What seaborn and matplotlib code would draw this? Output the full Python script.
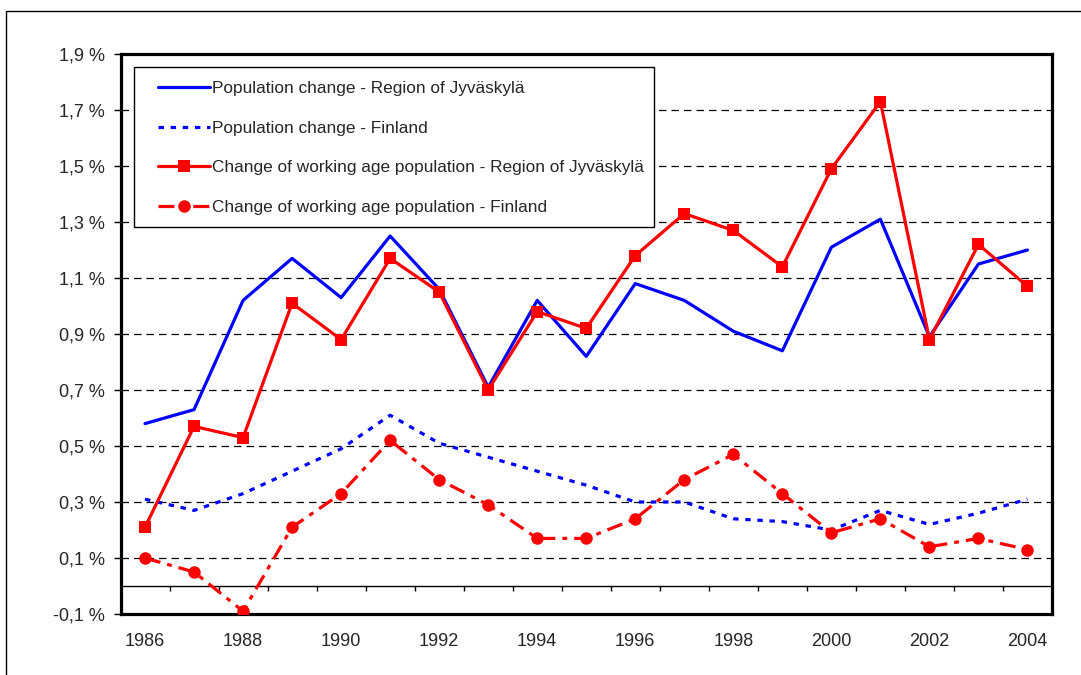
import matplotlib
matplotlib.use("Agg")
import matplotlib.pyplot as plt
from matplotlib.patches import Rectangle
from matplotlib.ticker import FuncFormatter
import seaborn as sns
import pandas as pd

# values (percent change per year)
years = list(range(1986, 2005))
region_pop = [0.58, 0.63, 1.02, 1.17, 1.03, 1.25, 1.06, 0.71, 1.02, 0.82,
              1.08, 1.02, 0.91, 0.84, 1.21, 1.31, 0.89, 1.15, 1.20]
finland_pop = [0.31, 0.27, 0.33, 0.41, 0.49, 0.61, 0.51, 0.46, 0.41, 0.36,
               0.30, 0.30, 0.24, 0.23, 0.20, 0.27, 0.22, 0.26, 0.31]
region_work = [0.21, 0.57, 0.53, 1.01, 0.88, 1.17, 1.05, 0.70, 0.98, 0.92,
               1.18, 1.33, 1.27, 1.14, 1.49, 1.73, 0.88, 1.22, 1.07]
finland_work = [0.10, 0.05, -0.09, 0.21, 0.33, 0.52, 0.38, 0.29, 0.17, 0.17,
                0.24, 0.38, 0.47, 0.33, 0.19, 0.24, 0.14, 0.17, 0.13]
series_names = ["Population change - Region of Jyväskylä",
                "Population change - Finland",
                "Change of working age population - Region of Jyväskylä",
                "Change of working age population - Finland"]
y_ticks = [-0.1, 0.1, 0.3, 0.5, 0.7, 0.9, 1.1, 1.3, 1.5, 1.7, 1.9]
x_ticks = list(range(1986, 2005, 2))

df = pd.DataFrame({
    "year": years * 4,
    "value": region_pop + finland_pop + region_work + finland_work,
    "series": sum([[s] * len(years) for s in series_names], []),
})

sns.set_theme(style="white")
plt.rcParams["font.family"] = ["Liberation Sans", "DejaVu Sans"]

fig = plt.figure(figsize=(10.81, 6.75), dpi=100)
ax = fig.add_axes([120.5 / 1081, 1 - 614 / 675, (1052 - 120.5) / 1081, (614 - 54) / 675])

# line styles per series
styles = {
    series_names[0]: dict(color="#0000ff", linestyle="-", marker=None),
    series_names[1]: dict(color="#0000ff", linestyle=(0, (1.7, 2.1)), marker=None,
                          dash_capstyle="butt"),
    series_names[2]: dict(color="#ff0000", linestyle="-", marker="s", markersize=8),
    series_names[3]: dict(color="#ff0000", linestyle=(0, (5, 2.2, 1.5, 2.2)), marker="o",
                          markersize=9, dash_capstyle="butt"),
}
for name in series_names:
    st = styles[name]
    sns.lineplot(data=df[df["series"] == name], x="year", y="value", ax=ax,
                 label=name, linewidth=2.3, markeredgecolor=st["color"],
                 markeredgewidth=0, zorder=3, **st)

ax.set_xlim(1985.5, 2004.5)
ax.set_ylim(-0.1, 1.9)
ax.set_yticks(y_ticks)
ax.yaxis.set_major_formatter(FuncFormatter(lambda v, p: f"{v:.1f}".replace(".", ",") + " %"))
ax.set_xticks(x_ticks)
ax.set_xticklabels([str(y) for y in x_ticks])
ax.tick_params(axis="y", direction="out", length=5, width=1, color="black",
               pad=6, labelsize=13, left=True)
ax.tick_params(axis="x", length=0, pad=14, labelsize=13)
ax.set_xlabel("")
ax.set_ylabel("")

# dashed gridlines between the frame edges
for v in y_ticks[1:-1]:
    ax.axhline(v, color="black", linewidth=0.9, linestyle=(0, (6, 4)), zorder=1)

# zero line with category tick marks below it
ax.axhline(0, color="black", linewidth=1, zorder=2)
bounds = [y + 0.5 for y in years[:-1]]
ax.vlines(bounds, -0.018, 0, color="black", linewidth=1, zorder=2)

for sp in ax.spines.values():
    sp.set_color("black")
    sp.set_linewidth(2.3)

# legend on a white square box that hides the gridlines behind it
ax.add_patch(Rectangle((134 / 1081, 1 - 227 / 675), (654 - 134) / 1081, 160 / 675,
                       transform=fig.transFigure, facecolor="white", edgecolor="black",
                       linewidth=1, zorder=4, clip_on=False))
leg = ax.legend(loc="upper left", bbox_to_anchor=(158 / 1081, 1 - 81 / 675),
                bbox_transform=fig.transFigure, frameon=False, fontsize=12.4,
                labelspacing=1.43, handlelength=3.0, handletextpad=0.15,
                borderpad=0, borderaxespad=0)
leg.set_zorder(6)

# outer chart border (clipped by the image on the right and bottom)
fig.add_artist(Rectangle((6 / 1081, -0.05), 1.1, 1.05 - 11 / 675,
                         transform=fig.transFigure, fill=False, edgecolor="black",
                         linewidth=1))

fig.savefig("out.png", dpi=100)
